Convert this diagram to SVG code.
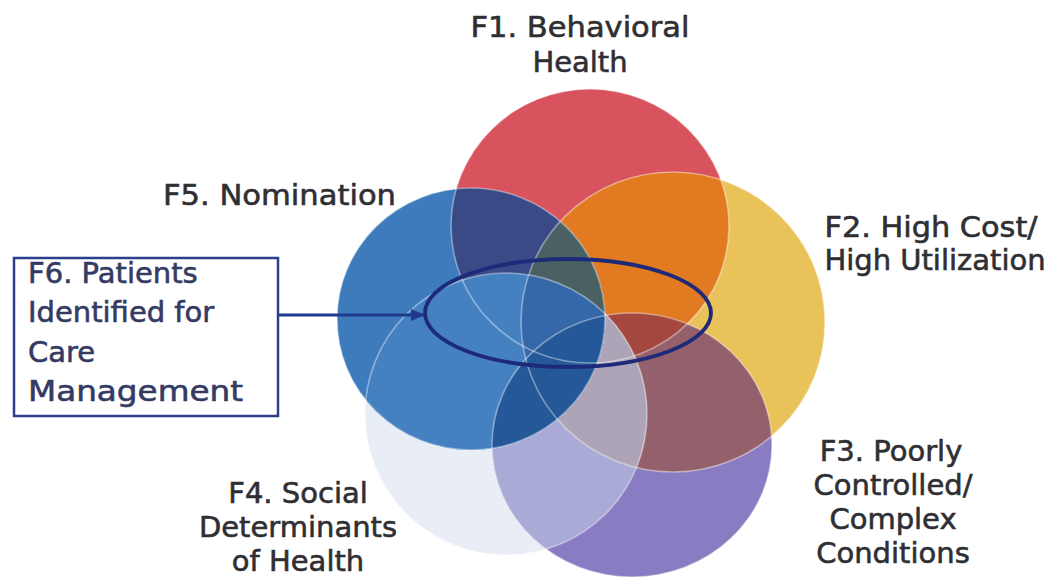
<svg xmlns="http://www.w3.org/2000/svg" xmlns:xlink="http://www.w3.org/1999/xlink" width="1050" height="582" viewBox="0 0 1050 582">
  <style>
    .lbl { font-family: "DejaVu Sans", "Liberation Sans", sans-serif; font-size: 29px; fill: #2f2f33; stroke: #2f2f33; stroke-width: 0.6; }
    .mid { text-anchor: middle; }
    .box-text { font-family: "DejaVu Sans", "Liberation Sans", sans-serif; font-size: 29px; fill: #343b63; stroke: #343b63; stroke-width: 0.6; }
    .edge { fill: none; stroke: #ffffff; stroke-opacity: 0.4; stroke-width: 1.6; }
  </style>
  <defs>
    <!-- factor circles -->
    <ellipse id="s1" cx="590" cy="226" rx="139" ry="137"/>
    <ellipse id="s2" cx="673" cy="322" rx="152" ry="150"/>
    <ellipse id="s3" cx="632" cy="445" rx="140" ry="132"/>
    <circle  id="s4" cx="506" cy="414" r="141"/>
    <ellipse id="s5" cx="471" cy="319" rx="134" ry="131"/>
    <clipPath id="c1"><use xlink:href="#s1"/></clipPath>
    <clipPath id="c2"><use xlink:href="#s2"/></clipPath>
    <clipPath id="c3"><use xlink:href="#s3"/></clipPath>
    <clipPath id="c4"><use xlink:href="#s4"/></clipPath>
    <marker id="arrow" markerWidth="14" markerHeight="12" refX="13" refY="6" orient="auto" markerUnits="userSpaceOnUse">
      <path d="M0,0 L14,6 L0,12 z" fill="#1f3a8c"/>
    </marker>
  </defs>

  <rect width="1050" height="582" fill="#ffffff"/>

  <!-- F4. Social Determinants of Health -->
  <g id="f4">
    <use xlink:href="#s4" fill="#e8edf6"/>
  </g>
  <!-- F3. Poorly Controlled / Complex Conditions -->
  <g id="f3">
    <use xlink:href="#s3" fill="#8a7cc2"/>
    <g clip-path="url(#c4)"><use xlink:href="#s3" fill="#aaaad6"/></g>
  </g>
  <!-- F1. Behavioral Health -->
  <g id="f1">
    <use xlink:href="#s1" fill="#d8535d"/>
  </g>
  <!-- F2. High Cost / High Utilization, with its overlaps -->
  <g id="f2">
    <use xlink:href="#s2" fill="#eac25a"/>
    <g clip-path="url(#c1)"><use xlink:href="#s2" fill="#e27a22"/></g>
    <g clip-path="url(#c3)"><use xlink:href="#s2" fill="#94606c"/></g>
    <g clip-path="url(#c3)"><g clip-path="url(#c1)"><use xlink:href="#s2" fill="#a3473f"/></g></g>
    <g clip-path="url(#c4)"><use xlink:href="#s2" fill="#cdbfb6"/></g>
    <g clip-path="url(#c4)"><g clip-path="url(#c3)"><use xlink:href="#s2" fill="#aea4b8"/></g></g>
  </g>
  <!-- F5. Nomination, with its overlaps -->
  <g id="f5">
    <use xlink:href="#s5" fill="#3d7bbd"/>
    <g clip-path="url(#c1)"><use xlink:href="#s5" fill="#394a86"/></g>
    <g clip-path="url(#c2)"><use xlink:href="#s5" fill="#3566a6"/></g>
    <g clip-path="url(#c2)"><g clip-path="url(#c1)"><use xlink:href="#s5" fill="#4a6163"/></g></g>
    <g clip-path="url(#c4)"><use xlink:href="#s5" fill="#4581c1"/></g>
    <g clip-path="url(#c4)"><g clip-path="url(#c2)"><use xlink:href="#s5" fill="#3568a8"/></g></g>
    <g clip-path="url(#c4)"><g clip-path="url(#c3)"><use xlink:href="#s5" fill="#245898"/></g></g>
  </g>

  <!-- light rims of the circles -->
  <g id="rims">
    <use xlink:href="#s1" class="edge"/>
    <use xlink:href="#s2" class="edge"/>
    <use xlink:href="#s3" class="edge"/>
    <use xlink:href="#s4" class="edge"/>
    <use xlink:href="#s5" class="edge"/>
  </g>

  <!-- F6 target ellipse -->
  <g id="f6-target">
    <ellipse cx="568" cy="313" rx="143" ry="54" fill="none" stroke="#1d2a7a" stroke-width="3.8"/>
  </g>

  <!-- F6 box -->
  <g id="f6">
    <rect x="14" y="258" width="264" height="158" fill="#ffffff" stroke="#2c3f8c" stroke-width="2.5"/>
    <text class="box-text" x="28" y="283">F6. Patients</text>
    <text class="box-text" x="28" y="322">Identified for</text>
    <text class="box-text" x="28" y="362">Care</text>
    <text class="box-text" x="28" y="401" textLength="215" lengthAdjust="spacingAndGlyphs">Management</text>
  </g>

  <!-- connectors -->
  <g id="connectors">
    <line x1="279" y1="315" x2="424" y2="315" stroke="#1f3a8c" stroke-width="3" marker-end="url(#arrow)"/>
  </g>

  <!-- labels -->
  <g id="labels">
    <text class="lbl mid" x="580" y="37" textLength="219" lengthAdjust="spacingAndGlyphs">F1. Behavioral</text>
    <text class="lbl mid" x="580" y="72">Health</text>
    <text class="lbl mid" x="931" y="237" textLength="213" lengthAdjust="spacingAndGlyphs">F2. High Cost/</text>
    <text class="lbl mid" x="935" y="270">High Utilization</text>
    <text class="lbl mid" x="891" y="461">F3. Poorly</text>
    <text class="lbl mid" x="893" y="495">Controlled/</text>
    <text class="lbl mid" x="893" y="529">Complex</text>
    <text class="lbl mid" x="893" y="563">Conditions</text>
    <text class="lbl mid" x="298" y="503">F4. Social</text>
    <text class="lbl mid" x="298" y="537">Determinants</text>
    <text class="lbl mid" x="298" y="571">of Health</text>
    <text class="lbl" x="163" y="205" textLength="233" lengthAdjust="spacingAndGlyphs">F5. Nomination</text>
  </g>
</svg>
